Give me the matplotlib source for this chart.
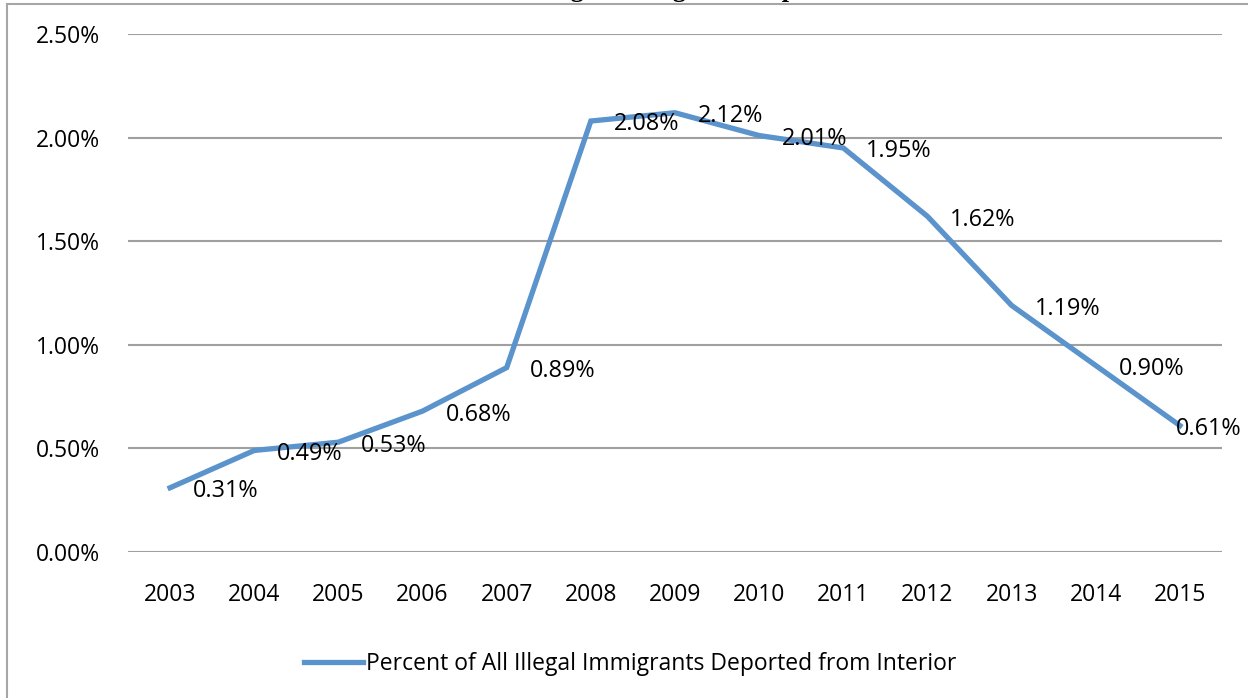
import matplotlib.pyplot as plt
from matplotlib.patches import Rectangle

years = ["2003", "2004", "2005", "2006", "2007", "2008", "2009",
         "2010", "2011", "2012", "2013", "2014", "2015"]
pct_deported = [0.31, 0.49, 0.53, 0.68, 0.89, 2.08, 2.12,
                2.01, 1.95, 1.62, 1.19, 0.90, 0.61]
y_ticks = [0.0, 0.5, 1.0, 1.5, 2.0, 2.5]
series_name = "Percent of All Illegal Immigrants Deported from Interior"
title = "Percent of All Illegal Immigrants Deported from Interior"

plt.rcParams["font.family"] = ["Open Sans", "DejaVu Sans"]
W, H = 1248, 698
fig = plt.figure(figsize=(W / 100, H / 100), dpi=100)

# chart border (cut off on right / bottom)
fig.patches.append(Rectangle((7 / W, -0.1), 1.2, 1 - 4 / H + 0.1,
                             transform=fig.transFigure, fill=False,
                             edgecolor="#a6a6a6", linewidth=1.5))

# title mostly cut off above the image
fig.text(0.556, 1 + 3 / H, title, ha="center", va="baseline",
         family="Liberation Serif", fontweight="bold", fontsize=19)

ax = fig.add_axes([128 / W, 1 - 552 / H, (1222 - 128) / W, (552 - 34) / H])
x = list(range(len(years)))
line, = ax.plot(x, pct_deported, color="#5b93cc", linewidth=3.8,
                solid_joinstyle="miter", label=series_name, zorder=3)

for xi, v in zip(x, pct_deported):
    # last label is pulled back so it stays inside the chart, as Excel does
    dx = 16.5 if xi < len(years) - 1 else -3
    ax.annotate(f"{v:.2f}%", (xi, v), xytext=(dx, -2.5), textcoords="offset points",
                ha="left", va="center", fontsize=16.8, color="#000000", zorder=4)

ax.set_xlim(-0.5, len(years) - 0.5)
ax.set_ylim(0, 2.5)
ax.set_yticks(y_ticks)
ax.set_yticklabels([f"{t:.2f}%" for t in y_ticks])
ax.set_xticks(x)
ax.set_xticklabels(years)
ax.tick_params(length=0, labelsize=16.5, colors="#000000")
ax.tick_params(axis="y", pad=20)
ax.tick_params(axis="x", pad=22)
ax.grid(axis="y", color="#a0a0a0", linewidth=1.5)
ax.set_axisbelow(True)
for s in ax.spines.values():
    s.set_visible(False)

fig.legend(handles=[line], loc="center", bbox_to_anchor=(630 / W, 1 - 664 / H),
           frameon=False, fontsize=16.5, handlelength=2.6, handletextpad=0.1)

fig.savefig("out.png", dpi=100)
